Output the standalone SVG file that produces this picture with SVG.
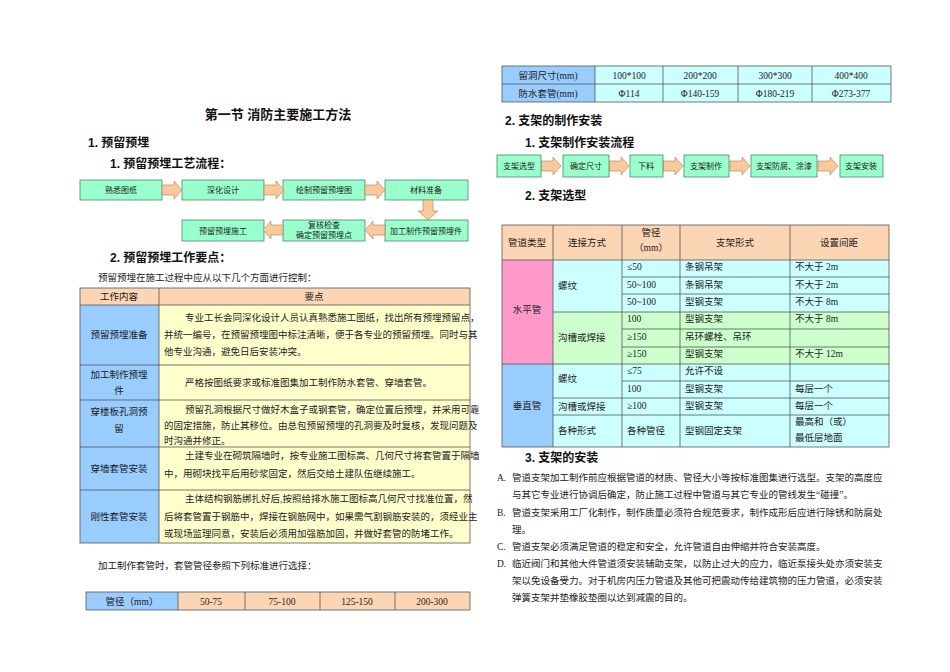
<svg xmlns="http://www.w3.org/2000/svg" width="950" height="672" viewBox="0 0 950 672">
<defs>
<style>
text{font-family:"Liberation Serif","Noto Sans CJK SC",serif;font-size:9.5px;fill:#222}
.h{font-family:"Liberation Sans","Noto Sans CJK SC",sans-serif;font-weight:bold;font-size:12px;fill:#111}
.t{font-size:13px}
.bx{fill:#99ffcc;stroke:#4a8a6a;stroke-width:0.8}
.ar{fill:#f9c89b;stroke:#b08050;stroke-width:0.6}
.c{text-anchor:middle}
.s{font-size:8px}
.g{stroke:#555;stroke-width:0.8}
.bl{fill:#99ccff}.yl{fill:#ffffcc}.or{fill:#fcd5b4}.cy{fill:#ccffff}.gr{fill:#ccffcc}.pk{fill:#ff99cc}
</style>
<polygon id="ra" class="ar" points="0,-5 12,-5 12,-9 20,0 12,9 12,5 0,5"/>
</defs>
<rect width="950" height="672" fill="#fff"/>
<text class="h t c" x="278" y="119">第一节  消防主要施工方法</text>
<text class="h" x="88" y="147">1. 预留预埋</text>
<text class="h" x="110" y="168">1. 预留预埋工艺流程：</text>
<g id="flow1">
<g id="n1"><rect class="bx" x="80" y="180" width="82" height="20"/><text class="c s" x="121" y="193">熟悉图纸</text></g>
<g id="n2"><rect class="bx" x="182" y="180" width="82" height="20"/><text class="c s" x="223" y="193">深化设计</text></g>
<g id="n3"><rect class="bx" x="283" y="180" width="82" height="20"/><text class="c s" x="324" y="193">绘制预留预埋图</text></g>
<g id="n4"><rect class="bx" x="385" y="180" width="83" height="20"/><text class="c s" x="426" y="193">材料准备</text></g>
<g id="n5"><rect class="bx" x="385" y="220" width="83" height="21"/><text class="c s" x="426" y="234">加工制作预留预埋件</text></g>
<g id="n6"><rect class="bx" x="283" y="220" width="82" height="21"/><text class="c s" x="324" y="228">复核检查</text><text class="c s" x="324" y="238">确定预留预埋点</text></g>
<g id="n7"><rect class="bx" x="182" y="220" width="82" height="21"/><text class="c s" x="223" y="234">预留预埋施工</text></g>
</g>
<g id="connectors">
<use href="#ra" x="162" y="190"/><use href="#ra" x="264" y="190"/><use href="#ra" x="365" y="190"/>
<polygon class="ar" points="423,200 433,200 433,211 438,211 428,220 418,211 423,211"/>
<use href="#ra" transform="translate(385,230) scale(-1,1)"/>
<use href="#ra" transform="translate(283,230) scale(-1,1)"/>
<use href="#ra" x="541" y="166"/><use href="#ra" x="609" y="166"/>
<use href="#ra" x="663" y="166"/><use href="#ra" x="730" y="166"/><use href="#ra" x="818" y="166"/>
</g>
<text class="h" x="110" y="262">2. 预留预埋工作要点：</text>
<text x="98" y="281">预留预埋在施工过程中应从以下几个方面进行控制：</text>
<g id="table1">
<rect class="or" x="80" y="288" width="390" height="17"/>
<rect class="bl" x="80" y="305" width="79" height="238"/>
<rect class="yl" x="159" y="305" width="311" height="238"/>
<g class="g" fill="none"><rect x="80" y="288" width="390" height="255"/>
<path d="M159 288V543M80 305H470M80 365H470M80 400H470M80 447H470M80 490H470"/></g>
<text class="c" x="119" y="300">工作内容</text><text class="c" x="314" y="300">要点</text>
<text class="c" x="119" y="338">预留预埋准备</text>
<text x="185" y="321">专业工长会同深化设计人员认真熟悉施工图纸，找出所有预埋预留点，</text>
<text x="164" y="338">并统一编号，在预留预埋图中标注清晰，便于各专业的预留预埋。同时与其</text>
<text x="164" y="355">他专业沟通，避免日后安装冲突。</text>
<text class="c" x="119" y="378">加工制作预埋</text><text class="c" x="119" y="394">件</text>
<text x="185" y="386">严格按图纸要求或标准图集加工制作防水套管、穿墙套管。</text>
<text class="c" x="119" y="415">穿楼板孔洞预</text><text class="c" x="119" y="432">留</text>
<text x="185" y="413">预留孔洞根据尺寸做好木盒子或钢套管，确定位置后预埋，并采用可靠</text>
<text x="164" y="429">的固定措施，防止其移位。由总包预留预埋的孔洞要及时复核，发现问题及</text>
<text x="164" y="444">时沟通并修正。</text>
<text class="c" x="119" y="472">穿墙套管安装</text>
<text x="185" y="459">土建专业在砌筑隔墙时，按专业施工图标高、几何尺寸将套管置于隔墙</text>
<text x="164" y="477">中，用砌块找平后用砂浆固定，然后交给土建队伍继续施工。</text>
<text class="c" x="119" y="520">刚性套管安装</text>
<text x="185" y="502">主体结构钢筋绑扎好后,按照给排水施工图标高几何尺寸找准位置，然</text>
<text x="164" y="520">后将套管置于钢筋中，焊接在钢筋网中，如果需气割钢筋安装的，须经业主</text>
<text x="164" y="537">或现场监理同意，安装后必须用加强筋加固，并做好套管的防堵工作。</text>
</g>
<text x="98" y="569">加工制作套管时，套管管径参照下列标准进行选择：</text>
<g id="table2">
<rect class="bl" x="86" y="592" width="92" height="18"/><rect class="or" x="178" y="592" width="292" height="18"/>
<g class="g" fill="none"><rect x="86" y="592" width="384" height="18"/><path d="M178 592V610M245 592V610M320 592V610M395 592V610"/></g>
<text class="c" x="132" y="605">管径（mm）</text><text class="c" x="211" y="605">50-75</text><text class="c" x="282" y="605">75-100</text><text class="c" x="357" y="605">125-150</text><text class="c" x="432" y="605">200-300</text>
</g>
<g id="table3">
<rect class="bl" x="502" y="66" width="93" height="36"/><rect class="cy" x="595" y="66" width="296" height="36"/>
<g class="g" fill="none"><rect x="502" y="66" width="389" height="36"/><path d="M502 84H891M595 66V102M663 66V102M738 66V102M812 66V102"/></g>
<text class="c" x="548" y="79">留洞尺寸(mm)</text><text class="c" x="629" y="79">100*100</text><text class="c" x="700" y="79">200*200</text><text class="c" x="775" y="79">300*300</text><text class="c" x="851" y="79">400*400</text>
<text class="c" x="548" y="97">防水套管(mm)</text><text class="c" x="629" y="97">Φ114</text><text class="c" x="700" y="97">Φ140-159</text><text class="c" x="775" y="97">Φ180-219</text><text class="c" x="851" y="97">Φ273-377</text>
</g>
<text class="h" x="505" y="125">2. 支架的制作安装</text>
<text class="h" x="525" y="147">1. 支架制作安装流程</text>
<g id="flow2">
<g id="m1"><rect class="bx" x="497" y="155" width="44" height="22"/><text class="c s" x="519" y="169">支架选型</text></g>
<g id="m2"><rect class="bx" x="563" y="155" width="46" height="22"/><text class="c s" x="586" y="169">确定尺寸</text></g>
<g id="m3"><rect class="bx" x="630" y="155" width="33" height="22"/><text class="c s" x="646" y="169">下料</text></g>
<g id="m4"><rect class="bx" x="684" y="155" width="45" height="22"/><text class="c s" x="706" y="169">支架制作</text></g>
<g id="m5"><rect class="bx" x="751" y="155" width="66" height="22"/><text class="c s" x="784" y="169">支架防腐、涂漆</text></g>
<g id="m6"><rect class="bx" x="840" y="155" width="43" height="22"/><text class="c s" x="861" y="169">支架安装</text></g>
</g>
<text class="h" x="525" y="200">2. 支架选型</text>
<g id="table4">
<rect class="or" x="502" y="225" width="387" height="35"/>
<rect class="pk" x="502" y="260" width="51" height="104"/>
<rect class="bl" x="502" y="364" width="51" height="83"/>
<rect class="cy" x="553" y="260" width="336" height="52"/>
<rect class="gr" x="553" y="312" width="336" height="52"/>
<rect class="cy" x="553" y="364" width="336" height="83"/>
<g class="g" fill="none"><rect x="502" y="225" width="387" height="222"/>
<path d="M553 225V447M622 225V447M680 225V447M790 225V447M502 260H889M622 277H889M622 294H889M553 312H889M622 329H889M622 347H889M502 364H889M622 381H889M553 398H889M553 415H889"/></g>
<text class="c" x="527" y="246">管道类型</text><text class="c" x="587" y="246">连接方式</text><text class="c" x="651" y="236">管径</text><text class="c" x="651" y="251">（mm）</text><text class="c" x="735" y="246">支架形式</text><text class="c" x="839" y="246">设置间距</text>
<text class="c" x="527" y="313">水平管</text><text class="c" x="527" y="409">垂直管</text>
<text x="558" y="289">螺纹</text><text x="558" y="341">沟槽或焊接</text><text x="558" y="382">螺纹</text><text x="558" y="410">沟槽或焊接</text><text x="558" y="434">各种形式</text>
<text x="627" y="270">≤50</text><text x="685" y="270">条钢吊架</text><text x="795" y="270">不大于 2m</text>
<text x="627" y="288">50~100</text><text x="685" y="288">条钢吊架</text><text x="795" y="288">不大于 2m</text>
<text x="627" y="305">50~100</text><text x="685" y="305">型钢支架</text><text x="795" y="305">不大于 8m</text>
<text x="627" y="322">100</text><text x="685" y="322">型钢支架</text><text x="795" y="322">不大于 8m</text>
<text x="627" y="340">≥150</text><text x="685" y="340">吊环螺栓、吊环</text>
<text x="627" y="357">≥150</text><text x="685" y="357">型钢支架</text><text x="795" y="357">不大于 12m</text>
<text x="627" y="374">≤75</text><text x="685" y="374">允许不设</text>
<text x="627" y="392">100</text><text x="685" y="392">型钢支架</text><text x="795" y="392">每层一个</text>
<text x="627" y="409">≥100</text><text x="685" y="409">型钢支架</text><text x="795" y="409">每层一个</text>
<text x="627" y="434">各种管径</text><text x="685" y="434">型钢固定支架</text><text x="795" y="425">最高和（或）</text><text x="795" y="441">最低层地面</text>
</g>
<text class="h" x="525" y="462">3. 支架的安装</text>
<g id="list">
<text x="497" y="481">A.</text><text x="512" y="481">管道支架加工制作前应根据管道的材质、管径大小等按标准图集进行选型。支架的高度应</text>
<text x="512" y="498">与其它专业进行协调后确定，防止施工过程中管道与其它专业的管线发生“碰撞”。</text>
<text x="497" y="516">B.</text><text x="512" y="516">管道支架采用工厂化制作，制作质量必须符合规范要求，制作成形后应进行除锈和防腐处</text>
<text x="512" y="533">理。</text>
<text x="497" y="550">C.</text><text x="512" y="550">管道支架必须满足管道的稳定和安全，允许管道自由伸缩并符合安装高度。</text>
<text x="497" y="567">D.</text><text x="512" y="567">临近阀门和其他大件管道须安装辅助支架，以防止过大的应力，临近泵接头处亦须安装支</text>
<text x="512" y="584">架以免设备受力。对于机房内压力管道及其他可把震动传给建筑物的压力管道，必须安装</text>
<text x="512" y="601">弹簧支架并垫橡胶垫圈以达到减震的目的。</text>
</g>
</svg>
